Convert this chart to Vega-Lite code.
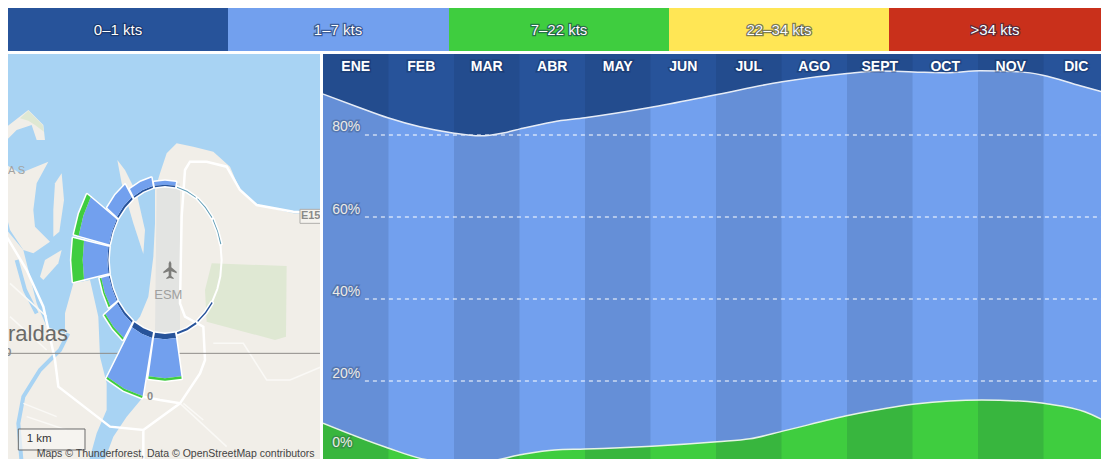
{"$schema":"https://vega.github.io/schema/vega-lite/v6.json","background":"white","padding":{"left":8,"top":8,"right":0,"bottom":0},"bounds":"flush","spacing":3,"config":{"view":{"stroke":null}},"resolve":{"scale":{"color":"independent"}},
"datasets":{
"legend":[{"label":"0–1 kts","from":0,"to":220,"mid":110},{"label":"1–7 kts","from":220,"to":441,"mid":330},{"label":"7–22 kts","from":441,"to":661,"mid":551},{"label":"22–34 kts","from":661,"to":881,"mid":771},{"label":">34 kts","from":881,"to":1093,"mid":987}],
"months":[{"month":"ENE","start":0,"end":1,"mid":0.5,"shade":"dark"},{"month":"FEB","start":1,"end":2,"mid":1.5,"shade":"light"},{"month":"MAR","start":2,"end":3,"mid":2.5,"shade":"dark"},{"month":"ABR","start":3,"end":4,"mid":3.5,"shade":"light"},{"month":"MAY","start":4,"end":5,"mid":4.5,"shade":"dark"},{"month":"JUN","start":5,"end":6,"mid":5.5,"shade":"light"},{"month":"JUL","start":6,"end":7,"mid":6.5,"shade":"dark"},{"month":"AGO","start":7,"end":8,"mid":7.5,"shade":"light"},{"month":"SEPT","start":8,"end":9,"mid":8.5,"shade":"dark"},{"month":"OCT","start":9,"end":10,"mid":9.5,"shade":"light"},{"month":"NOV","start":10,"end":11,"mid":10.5,"shade":"dark"},{"month":"DIC","start":11,"end":12,"mid":11.5,"shade":"light"}],
"top":[{"m":0,"pct":90.0},{"m":0.52,"pct":86.9},{"m":0.99,"pct":84.2},{"m":1.48,"pct":82.0},{"m":1.98,"pct":80.5},{"m":2.4,"pct":79.8},{"m":2.75,"pct":80.5},{"m":3.01,"pct":81.5},{"m":3.51,"pct":83.2},{"m":4.0,"pct":84.2},{"m":4.99,"pct":86.7},{"m":6.02,"pct":89.9},{"m":7.01,"pct":93.0},{"m":8.0,"pct":95.0},{"m":8.5,"pct":95.6},{"m":9.01,"pct":95.4},{"m":9.53,"pct":95.2},{"m":10.03,"pct":95.7},{"m":10.64,"pct":95.4},{"m":10.99,"pct":94.6},{"m":11.56,"pct":92.0},{"m":11.88,"pct":90.6}],
"green":[{"m":0,"pct":9.7},{"m":0.95,"pct":3.9},{"m":1.59,"pct":0.8},{"m":2.1,"pct":0.2},{"m":2.55,"pct":0.5},{"m":3.01,"pct":2.0},{"m":3.54,"pct":3.2},{"m":4.0,"pct":3.4},{"m":5.02,"pct":4.1},{"m":6.02,"pct":5.2},{"m":6.52,"pct":5.9},{"m":7.05,"pct":7.9},{"m":8.05,"pct":11.7},{"m":9.04,"pct":14.4},{"m":10.06,"pct":15.4},{"m":10.64,"pct":15.1},{"m":11.07,"pct":14.4},{"m":11.63,"pct":12.5},{"m":11.88,"pct":10.7}],
"grid":[{"pct":20,"from":0.64,"to":11.88},{"pct":40,"from":0.64,"to":11.88},{"pct":60,"from":0.64,"to":11.88},{"pct":80,"from":0.64,"to":11.88}],
"pctLabels":[{"label":"80%","at":82,"m":0.14},{"label":"60%","at":61.7,"m":0.14},{"label":"40%","at":41.7,"m":0.14},{"label":"20%","at":21.7,"m":0.14},{"label":"0%","at":4.9,"m":0.14}],
"rose":[
{"type":"Feature","properties":{"band":"blue"},"geometry":{"type":"Polygon","coordinates":[[[464,407],[495,404],[526,407],[528,396],[495,392],[462,396],[464,407]]]}},
{"type":"Feature","properties":{"band":"navy"},"geometry":{"type":"Polygon","coordinates":[[[465,412],[495,408],[525,412],[526,407],[495,404],[464,407],[465,412]]]}},
{"type":"Feature","properties":{"band":"thin"},"geometry":{"type":"Polygon","coordinates":[[[531,413],[560,425],[587,443],[588,441],[561,422],[531,410],[531,413]]]}},
{"type":"Feature","properties":{"band":"thin"},"geometry":{"type":"Polygon","coordinates":[[[592,447],[615,473],[635,504],[637,502],[617,471],[593,445],[592,447]]]}},
{"type":"Feature","properties":{"band":"thin"},"geometry":{"type":"Polygon","coordinates":[[[638,510],[652,545],[661,583],[664,582],[654,544],[640,508],[638,510]]]}},
{"type":"Feature","properties":{"band":"navy"},"geometry":{"type":"Polygon","coordinates":[[[635,756],[615,787],[592,812],[594,816],[618,790],[638,759],[635,756]]]}},
{"type":"Feature","properties":{"band":"navy"},"geometry":{"type":"Polygon","coordinates":[[[587,817],[560,835],[531,847],[532,853],[562,841],[590,822],[587,817]]]}},
{"type":"Feature","properties":{"band":"navy"},"geometry":{"type":"Polygon","coordinates":[[[525,848],[495,852],[465,848],[462,864],[495,868],[528,864],[525,848]]]}},
{"type":"Feature","properties":{"band":"blue"},"geometry":{"type":"Polygon","coordinates":[[[528,864],[495,868],[462,864],[446,979],[495,985],[544,979],[528,864]]]}},
{"type":"Feature","properties":{"band":"green"},"geometry":{"type":"Polygon","coordinates":[[[544,979],[495,985],[446,979],[445,986],[495,992],[545,986],[544,979]]]}},
{"type":"Feature","properties":{"band":"navy"},"geometry":{"type":"Polygon","coordinates":[[[459,847],[430,835],[403,817],[396,832],[425,851],[456,864],[459,847]]]}},
{"type":"Feature","properties":{"band":"blue"},"geometry":{"type":"Polygon","coordinates":[[[456,864],[425,851],[396,832],[322,981],[373,1016],[428,1038],[456,864]]]}},
{"type":"Feature","properties":{"band":"green"},"geometry":{"type":"Polygon","coordinates":[[[428,1038],[373,1016],[322,981],[319,986],[371,1022],[426,1044],[428,1038]]]}},
{"type":"Feature","properties":{"band":"navy"},"geometry":{"type":"Polygon","coordinates":[[[398,812],[375,787],[355,756],[351,760],[371,792],[395,818],[398,812]]]}},
{"type":"Feature","properties":{"band":"blue"},"geometry":{"type":"Polygon","coordinates":[[[395,818],[371,792],[351,760],[316,792],[341,831],[371,864],[395,818]]]}},
{"type":"Feature","properties":{"band":"green"},"geometry":{"type":"Polygon","coordinates":[[[371,864],[341,831],[316,792],[312,796],[338,836],[368,869],[371,864]]]}},
{"type":"Feature","properties":{"band":"navy"},"geometry":{"type":"Polygon","coordinates":[[[352,750],[338,715],[329,677],[326,678],[336,716],[350,752],[352,750]]]}},
{"type":"Feature","properties":{"band":"blue"},"geometry":{"type":"Polygon","coordinates":[[[350,752],[336,716],[326,678],[304,684],[314,728],[331,768],[350,752]]]}},
{"type":"Feature","properties":{"band":"green"},"geometry":{"type":"Polygon","coordinates":[[[331,768],[314,728],[304,684],[299,685],[310,730],[326,772],[331,768]]]}},
{"type":"Feature","properties":{"band":"navy"},"geometry":{"type":"Polygon","coordinates":[[[328,670],[325,630],[328,590],[325,590],[322,630],[325,670],[328,670]]]}},
{"type":"Feature","properties":{"band":"blue"},"geometry":{"type":"Polygon","coordinates":[[[325,670],[322,630],[325,590],[252,572],[248,630],[252,688],[325,670]]]}},
{"type":"Feature","properties":{"band":"green"},"geometry":{"type":"Polygon","coordinates":[[[252,688],[248,630],[252,572],[219,564],[214,630],[219,696],[252,688]]]}},
{"type":"Feature","properties":{"band":"navy"},"geometry":{"type":"Polygon","coordinates":[[[329,583],[338,545],[352,510],[350,508],[336,544],[327,583],[329,583]]]}},
{"type":"Feature","properties":{"band":"blue"},"geometry":{"type":"Polygon","coordinates":[[[327,583],[336,544],[350,508],[272,442],[250,497],[236,557],[327,583]]]}},
{"type":"Feature","properties":{"band":"green"},"geometry":{"type":"Polygon","coordinates":[[[236,557],[250,497],[272,442],[261,433],[237,491],[222,553],[236,557]]]}},
{"type":"Feature","properties":{"band":"navy"},"geometry":{"type":"Polygon","coordinates":[[[355,504],[375,473],[398,448],[395,442],[371,468],[351,500],[355,504]]]}},
{"type":"Feature","properties":{"band":"blue"},"geometry":{"type":"Polygon","coordinates":[[[351,500],[371,468],[395,442],[375,404],[346,435],[322,473],[351,500]]]}},
{"type":"Feature","properties":{"band":"navy"},"geometry":{"type":"Polygon","coordinates":[[[403,443],[430,425],[459,413],[458,408],[428,420],[401,439],[403,443]]]}},
{"type":"Feature","properties":{"band":"blue"},"geometry":{"type":"Polygon","coordinates":[[[401,439],[428,420],[458,408],[454,383],[421,396],[390,417],[401,439]]]}}
]
},
"vconcat":[
{"width":1093,"height":43,"data":{"name":"legend"},"layer":[
{"mark":{"type":"rect"},"encoding":{"x":{"field":"from","type":"quantitative","axis":null,"scale":{"domain":[0,1093],"nice":false,"zero":false}},"x2":{"field":"to"},"color":{"field":"label","type":"nominal","legend":null,"sort":null,"scale":{"domain":["0–1 kts","1–7 kts","7–22 kts","22–34 kts",">34 kts"],"range":["#27539a","#72a0ee","#3fcd3f","#ffe655","#c9301b"]}}}},
{"mark":{"type":"text","font":"Liberation Sans","fontSize":15,"stroke":"#10254d","strokeWidth":2.5,"strokeOpacity":0.55,"fill":"#10254d","baseline":"middle"},"encoding":{"x":{"field":"mid","type":"quantitative","axis":null},"text":{"field":"label"}}},
{"mark":{"type":"text","font":"Liberation Sans","fontSize":15,"fill":"#ffffff","baseline":"middle"},"encoding":{"x":{"field":"mid","type":"quantitative","axis":null},"text":{"field":"label"}}}
]},
{"spacing":3,"bounds":"flush","resolve":{"scale":{"color":"independent"}},"hconcat":[
{"width":312,"height":405,"projection":{"type":"identity","scale":0.33333,"translate":[-8,-4]},"layer":[
{"data":{"values":[
{"type":"Feature","properties":{"kind":"land"},"geometry":{"type":"Polygon","coordinates":[[[0,0],[990,0],[990,1240],[0,1240],[0,0]]]}},
{"type":"Feature","properties":{"kind":"water"},"geometry":{"type":"Polygon","coordinates":[[[20,10],[970,10],[970,495],[880,490],[770,465],[720,420],[690,350],[640,305],[580,290],[530,280],[500,310],[480,370],[465,420],[465,520],[460,620],[445,740],[420,800],[395,830],[390,860],[430,940],[430,1040],[380,1100],[340,1160],[310,1240],[265,1240],[20,1240],[20,10]]]}},
{"type":"Feature","properties":{"kind":"land"},"geometry":{"type":"Polygon","coordinates":[[[20,230],[85,180],[130,225],[135,270],[110,270],[95,225],[50,240],[20,270],[20,230]]]}},
{"type":"Feature","properties":{"kind":"park"},"geometry":{"type":"Polygon","coordinates":[[[60,205],[85,182],[128,225],[132,245],[105,225],[85,212],[60,205]]]}},
{"type":"Feature","properties":{"kind":"land"},"geometry":{"type":"Polygon","coordinates":[[[20,345],[60,370],[145,335],[110,400],[100,480],[105,530],[150,575],[100,610],[70,600],[30,540],[20,500],[20,345]]]}},
{"type":"Feature","properties":{"kind":"land"},"geometry":{"type":"Polygon","coordinates":[[[165,400],[185,370],[192,450],[178,545],[160,560],[160,480],[165,400]]]}},
{"type":"Feature","properties":{"kind":"land"},"geometry":{"type":"Polygon","coordinates":[[[20,540],[70,600],[110,760],[140,830],[195,850],[195,790],[220,700],[270,690],[295,800],[300,920],[320,1000],[320,1080],[290,1150],[265,1240],[20,1240],[20,540]]]}},
{"type":"Feature","properties":{"kind":"land"},"geometry":{"type":"Polygon","coordinates":[[[120,680],[135,630],[185,600],[175,640],[130,690],[120,680]]]}},
{"type":"Feature","properties":{"kind":"land"},"geometry":{"type":"Polygon","coordinates":[[[352,330],[375,360],[410,430],[435,540],[430,612],[400,520],[365,400],[352,330]]]}},
{"type":"Feature","properties":{"kind":"park"},"geometry":{"type":"Polygon","coordinates":[[[635,640],[860,648],[858,860],[825,870],[620,815],[615,720],[635,640]]]}},
{"type":"Feature","properties":{"kind":"apron"},"geometry":{"type":"Polygon","coordinates":[[[470,400],[540,400],[540,850],[465,850],[470,400]]]}}
]},"mark":{"type":"geoshape","clip":true,"stroke":null},"encoding":{"color":{"field":"properties.kind","type":"nominal","legend":null,"scale":{"domain":["land","water","park","apron","navy","blue","green","thin"],"range":["#f1eee8","#a8d3f3","#dfe8d3","#e3e4e2","#27539a","#72a0ee","#3fcd3f","#5e9bb5"]}}}},
{"data":{"values":[
{"type":"Feature","properties":{"name":"river"},"geometry":{"type":"LineString","coordinates":[[205,850],[180,900],[120,960],[70,1040],[55,1120],[65,1240]]}},
{"type":"Feature","properties":{"name":"channel"},"geometry":{"type":"LineString","coordinates":[[50,630],[75,720],[110,790]]}}
]},"mark":{"type":"geoshape","filled":false,"stroke":"#a8d3f3","strokeWidth":4,"clip":true}},
{"data":{"values":[
{"type":"Feature","properties":{"name":"grid"},"geometry":{"type":"MultiLineString","coordinates":[[[640,880],[730,880],[800,990],[870,990],[965,950]],[[70,1060],[170,1100]],[[80,1100],[200,1140]],[[540,1060],[680,1190]],[[30,700],[140,800]],[[30,800],[140,900]],[[550,1060],[610,1110]]]}}
]},"mark":{"type":"geoshape","filled":false,"stroke":"#faf9f6","strokeWidth":1.5,"clip":true}},
{"data":{"values":[
{"type":"Feature","properties":{"name":"roads"},"geometry":{"type":"MultiLineString","coordinates":[[[970,490],[880,485],[770,465],[720,420],[680,350],[620,335],[570,335],[555,360],[545,500],[540,760],[555,800],[610,830],[615,930],[600,970],[540,1060],[430,1140],[330,1130],[175,1010],[165,930],[130,770],[80,660],[20,560]],[[430,1140],[430,1240]],[[430,1040],[480,1050],[540,1060]]]}}
]},"mark":{"type":"geoshape","filled":false,"stroke":"#ffffff","strokeWidth":2.5,"clip":true}},
{"data":{"values":[
{"type":"Feature","properties":{"name":"equator"},"geometry":{"type":"LineString","coordinates":[[20,910],[970,910]]}}
]},"mark":{"type":"geoshape","filled":false,"stroke":"#8f8c88","strokeWidth":1,"clip":true}},
{"data":{"values":[
{"type":"Feature","properties":{"name":"plane"},"geometry":{"type":"Polygon","coordinates":[[[510,632],[514,640],[514,652],[530,665],[530,670],[514,664],[514,678],[521,684],[521,687],[510,684],[499,687],[499,684],[506,678],[506,664],[490,670],[490,665],[506,652],[506,640],[510,632]]]}}
]},"mark":{"type":"geoshape","fill":"#7d7d7a","stroke":null,"clip":true}},
{"data":{"values":[
{"type":"Feature","properties":{"name":"shield"},"geometry":{"type":"Polygon","coordinates":[[[900,478],[975,478],[975,520],[900,520],[900,478]]]}}
]},"mark":{"type":"geoshape","fill":"#f5f3ee","stroke":"#b0aeaa","strokeWidth":1,"clip":true}},
{"data":{"values":[
{"type":"Feature","properties":{"name":"scale box"},"geometry":{"type":"Polygon","coordinates":[[[55,1137],[255,1137],[255,1200],[55,1200],[55,1137]]]}}
]},"mark":{"type":"geoshape","fill":"#f8f7f4","fillOpacity":0.7,"stroke":"#6b6b6b","strokeWidth":1,"clip":true}},
{"data":{"values":[
{"type":"Feature","properties":{"name":"ring"},"geometry":{"type":"LineString","coordinates":[[495,406],[525,410],[560,423],[592,445],[615,471],[638,508],[652,543],[661,581],[665,630],[661,679],[652,717],[638,752],[615,789],[592,814],[560,837],[525,850],[495,854],[465,850],[430,837],[398,814],[375,789],[352,752],[338,717],[329,679],[325,630],[329,581],[338,543],[352,508],[375,471],[398,445],[430,423],[465,410],[495,406]]}}
]},"mark":{"type":"geoshape","filled":false,"stroke":"#ffffff","strokeWidth":2,"clip":true}},
{"data":{"name":"rose"},"mark":{"type":"geoshape","fill":"#ffffff","stroke":"#ffffff","strokeWidth":3,"strokeJoin":"round","clip":true}},
{"data":{"name":"rose"},"mark":{"type":"geoshape","stroke":null,"clip":true},"encoding":{"color":{"field":"properties.band","type":"nominal","legend":null,"scale":{"domain":["land","water","park","apron","navy","blue","green","thin"],"range":["#f1eee8","#a8d3f3","#dfe8d3","#e3e4e2","#27539a","#72a0ee","#3fcd3f","#5e9bb5"]}}}},
{"data":{"values":[{"x":24,"y":852,"t":"raldas"}]},"mark":{"type":"text","align":"left","baseline":"middle","font":"Liberation Sans","fontSize":22,"fill":"#6a6a68","clip":true},"encoding":{"longitude":{"field":"x","type":"quantitative"},"latitude":{"field":"y","type":"quantitative"},"text":{"field":"t"}}},
{"data":{"values":[{"x":24,"y":362,"t":"A S"}]},"mark":{"type":"text","align":"left","baseline":"middle","font":"Liberation Sans","fontSize":11,"fill":"#a2a2a0","clip":true},"encoding":{"longitude":{"field":"x","type":"quantitative"},"latitude":{"field":"y","type":"quantitative"},"text":{"field":"t"}}},
{"data":{"values":[{"x":505,"y":735,"t":"ESM"}]},"mark":{"type":"text","align":"center","baseline":"middle","font":"Liberation Sans","fontSize":13,"fill":"#a0a09e","clip":true},"encoding":{"longitude":{"field":"x","type":"quantitative"},"latitude":{"field":"y","type":"quantitative"},"text":{"field":"t"}}},
{"data":{"values":[{"x":932,"y":497,"t":"E15"},{"x":450,"y":1040,"t":"0"},{"x":25,"y":910,"t":"0"}]},"mark":{"type":"text","align":"center","baseline":"middle","font":"Liberation Sans","fontSize":11,"fontWeight":"bold","fill":"#8a8a88","clip":true},"encoding":{"longitude":{"field":"x","type":"quantitative"},"latitude":{"field":"y","type":"quantitative"},"text":{"field":"t"}}},
{"data":{"values":[{"x":80,"y":1167,"t":"1 km"}]},"mark":{"type":"text","align":"left","baseline":"middle","font":"Liberation Sans","fontSize":11.5,"fill":"#333333","clip":true},"encoding":{"longitude":{"field":"x","type":"quantitative"},"latitude":{"field":"y","type":"quantitative"},"text":{"field":"t"}}},
{"data":{"values":[{"x":110,"y":1213,"t":"Maps © Thunderforest, Data © OpenStreetMap contributors"}]},"mark":{"type":"text","align":"left","baseline":"middle","font":"Liberation Sans","fontSize":10.5,"fill":"#444444","clip":true},"encoding":{"longitude":{"field":"x","type":"quantitative"},"latitude":{"field":"y","type":"quantitative"},"text":{"field":"t"}}}
]},
{"width":778,"height":405,"layer":[
{"data":{"name":"top"},"mark":{"type":"area","interpolate":"monotone","color":"#27539a","clip":true},"encoding":{"x":{"field":"m","type":"quantitative","axis":null,"scale":{"domain":[0,11.878],"nice":false,"zero":false}},"y":{"field":"pct","type":"quantitative","axis":null,"scale":{"domain":[0.98,99.76],"nice":false,"zero":false}},"y2":{"datum":110}}},
{"data":{"name":"top"},"mark":{"type":"area","interpolate":"monotone","color":"#72a0ee","clip":true},"encoding":{"x":{"field":"m","type":"quantitative","axis":null},"y":{"field":"pct","type":"quantitative","axis":null},"y2":{"datum":-5}}},
{"data":{"name":"green"},"mark":{"type":"area","interpolate":"monotone","color":"#3fcd3f","clip":true},"encoding":{"x":{"field":"m","type":"quantitative","axis":null},"y":{"field":"pct","type":"quantitative","axis":null},"y2":{"datum":-5}}},
{"data":{"name":"months"},"mark":{"type":"rect","fill":"#102040","clip":true},"encoding":{"x":{"field":"start","type":"quantitative","axis":null},"x2":{"field":"end"},"opacity":{"field":"shade","type":"nominal","legend":null,"scale":{"domain":["dark","light"],"range":[0.13,0]}}}},
{"data":{"name":"grid"},"mark":{"type":"rule","stroke":"#ffffff","strokeWidth":2,"strokeOpacity":0.5,"strokeDash":[4,4],"clip":true},"encoding":{"x":{"field":"from","type":"quantitative","axis":null},"x2":{"field":"to"},"y":{"field":"pct","type":"quantitative","axis":null}}},
{"data":{"name":"top"},"mark":{"type":"line","interpolate":"monotone","stroke":"#e6ecf6","strokeWidth":1.5,"clip":true},"encoding":{"x":{"field":"m","type":"quantitative","axis":null},"y":{"field":"pct","type":"quantitative","axis":null}}},
{"data":{"name":"green"},"mark":{"type":"line","interpolate":"monotone","stroke":"#e6f4e6","strokeWidth":1.5,"clip":true},"encoding":{"x":{"field":"m","type":"quantitative","axis":null},"y":{"field":"pct","type":"quantitative","axis":null}}},
{"data":{"name":"pctLabels"},"mark":{"type":"text","align":"left","baseline":"middle","font":"Liberation Sans","fontSize":14,"fill":"#33415c","stroke":"#33415c","strokeWidth":3,"opacity":0.3,"clip":true},"encoding":{"x":{"field":"m","type":"quantitative","axis":null},"y":{"field":"at","type":"quantitative","axis":null},"text":{"field":"label"}}},
{"data":{"name":"pctLabels"},"mark":{"type":"text","align":"left","baseline":"middle","font":"Liberation Sans","fontSize":14,"fill":"#ecebe6","clip":true},"encoding":{"x":{"field":"m","type":"quantitative","axis":null},"y":{"field":"at","type":"quantitative","axis":null},"text":{"field":"label"}}},
{"data":{"name":"months"},"mark":{"type":"text","align":"center","baseline":"middle","font":"Liberation Sans","fontWeight":"bold","fontSize":14,"fill":"#10254d","stroke":"#10254d","strokeWidth":3,"opacity":0.35,"clip":true},"encoding":{"x":{"field":"mid","type":"quantitative","axis":null},"y":{"datum":96.6},"text":{"field":"month"}}},
{"data":{"name":"months"},"mark":{"type":"text","align":"center","baseline":"middle","font":"Liberation Sans","fontWeight":"bold","fontSize":14,"fill":"#ffffff","clip":true},"encoding":{"x":{"field":"mid","type":"quantitative","axis":null},"y":{"datum":96.6},"text":{"field":"month"}}}
]}
]}
]}
